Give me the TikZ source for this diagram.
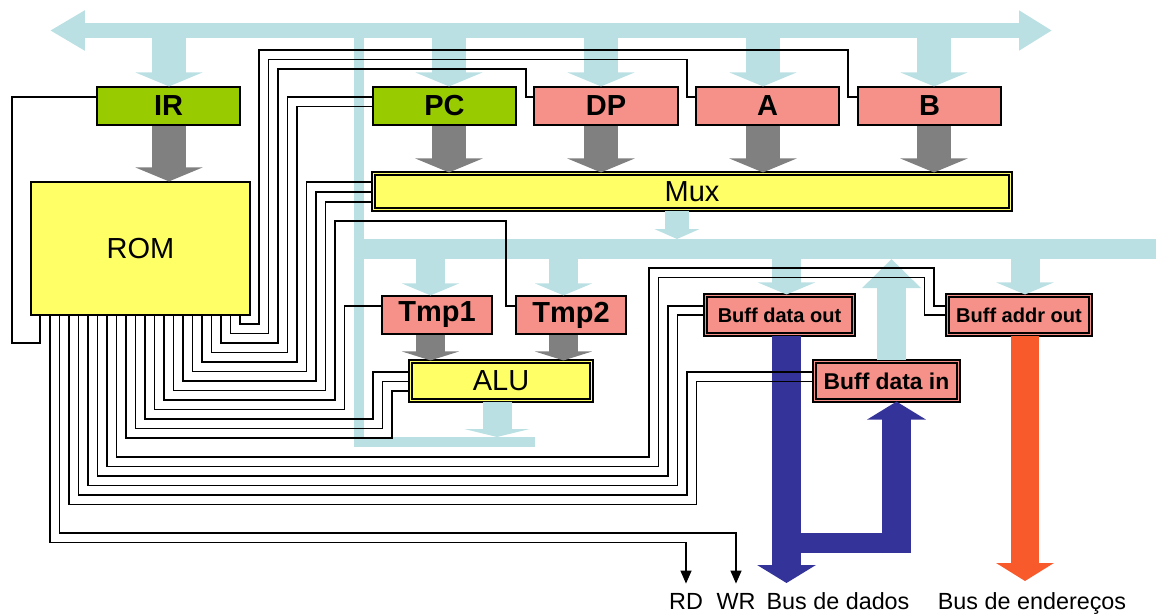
\documentclass[tikz,border=0pt]{standalone}
\usepackage{fontspec}
\setmainfont{Liberation Sans}
\usetikzlibrary{arrows.meta}

\definecolor{busblue}{HTML}{BBE0E3}
\definecolor{regred}{HTML}{F59189}
\definecolor{reggreen}{HTML}{99CC00}
\definecolor{romyellow}{HTML}{FFFF66}
\definecolor{dropgray}{HTML}{808080}
\definecolor{databus}{HTML}{333399}
\definecolor{addrbus}{HTML}{F95A2C}

\tikzset{
  reg/.style={draw, line width=0.7pt, inner sep=0pt, minimum height=0.76cm,
    font=\bfseries\fontsize{16.5}{18}\selectfont},
  dreg/.style={draw, line width=1.2pt, double distance=0.5pt, inner sep=0pt,
    minimum height=0.78cm},
  wire/.style={line width=0.75pt},
  sig/.style={line width=0.75pt, -{Triangle[width=0.22cm,length=0.26cm]}},
  topdrop/.style={busblue, line width=0.68cm, -{Triangle[width=1.34cm,length=0.28cm]}},
  middrop/.style={busblue, line width=0.58cm, -{Triangle[width=1.14cm,length=0.24cm]}},
  graydrop/.style={dropgray, line width=0.68cm, -{Triangle[width=1.34cm,length=0.28cm]}},
  tmpdrop/.style={dropgray, line width=0.58cm, -{Triangle[width=1.14cm,length=0.18cm]}},
  dbus/.style={databus, line width=0.58cm, -{Triangle[width=1.16cm,length=0.36cm]}},
  abus/.style={addrbus, line width=0.56cm, -{Triangle[width=1.14cm,length=0.36cm]}}
}

\begin{document}
\begin{tikzpicture}[x=0.02cm,y=-0.02cm]
  \useasboundingbox (0,0) rectangle (1156,613);

  % registers and blocks
  \node[reg, fill=reggreen, minimum width=2.86cm] (ir) at (168.5,106) {IR};
  \node[reg, fill=reggreen, minimum width=2.86cm] (pc) at (444.5,106) {PC};
  \node[reg, fill=regred, minimum width=2.88cm] (dp) at (606,106) {DP};
  \node[reg, fill=regred, minimum width=2.86cm] (a) at (767.5,106) {A};
  \node[reg, fill=regred, minimum width=2.86cm] (b) at (929.5,106) {B};
  \node[draw, line width=0.7pt, fill=romyellow, minimum width=4.38cm, minimum height=2.66cm,
    font=\fontsize{16.5}{18}\selectfont] (rom) at (140.5,248.5) {ROM};
  \node[dreg, fill=romyellow, double=romyellow, minimum width=12.74cm, minimum height=0.72cm,
    font=\fontsize{16.5}{18}\selectfont] (mux) at (692,191.5) {Mux};
  \node[reg, fill=regred, minimum width=2.2cm] (tmp1) at (437,315) {Tmp1};
  \node[reg, fill=regred, minimum width=2.2cm] (tmp2) at (571,315) {Tmp2};
  \node[dreg, fill=romyellow, double=romyellow, minimum width=3.62cm,
    font=\fontsize{16.5}{18}\selectfont] (alu) at (501,381) {ALU};
  \node[dreg, fill=regred, double=regred, minimum width=2.96cm,
    font=\bfseries\fontsize{11.4}{13}\selectfont] (bdo) at (779.5,315) {Buff data out};
  \node[dreg, fill=regred, double=regred, minimum width=2.88cm,
    font=\bfseries\fontsize{13}{15}\selectfont] (bdi) at (886.5,381) {Buff data in};
  \node[dreg, fill=regred, double=regred, minimum width=2.86cm,
    font=\bfseries\fontsize{11.4}{13}\selectfont] (bao) at (1019,315) {Buff addr out};

  % bottom labels
  \node[anchor=base, inner sep=0pt, font=\fontsize{13.3}{15}\selectfont] (rd) at (686,609) {RD};
  \node[anchor=base, inner sep=0pt, font=\fontsize{13.3}{15}\selectfont] (wr) at (736,609) {WR};
  \node[anchor=base, inner sep=0pt, font=\fontsize{13.3}{15}\selectfont] (dados) at (838,609) {Bus de dados};
  \node[anchor=base, inner sep=0pt, font=\fontsize{13.3}{15}\selectfont] (ender) at (1032,609) {Bus de endereços};

  % internal buses
  \draw[busblue, line width=0.3cm, {Triangle[width=0.76cm,length=0.7cm]}-{Triangle[width=0.76cm,length=0.66cm]}]
    (50,30.5) -- (1052,30.5);
  \draw[busblue, line width=0.2cm] (359,30) -- (359,442) -- (535,442);
  \draw[busblue, line width=0.4cm] (359,249) -- (1156,249);

  \draw[topdrop] (169,30) -- (169,0 |- ir.north);
  \draw[topdrop] (449,30) -- (449,0 |- pc.north);
  \draw[topdrop] (601,30) -- (601,0 |- dp.north);
  \draw[topdrop] (763,30) -- (763,0 |- a.north);
  \draw[topdrop] (934,30) -- (934,0 |- b.north);

  \draw[graydrop] (169,0 |- ir.south) -- (169,0 |- rom.north);
  \draw[graydrop] (449,0 |- pc.south) -- (449,0 |- mux.north);
  \draw[graydrop] (601,0 |- dp.south) -- (601,0 |- mux.north);
  \draw[graydrop] (763,0 |- a.south) -- (763,0 |- mux.north);
  \draw[graydrop] (934,0 |- b.south) -- (934,0 |- mux.north);

  \draw[busblue, line width=0.48cm, -{Triangle[width=0.9cm,length=0.2cm]}] (677,0 |- mux.south) -- (677,239);
  \draw[middrop] (430.5,249) -- (430.5,0 |- tmp1.north);
  \draw[middrop] (563.5,249) -- (563.5,0 |- tmp2.north);
  \draw[middrop] (786.5,249) -- (786.5,0 |- bdo.north);
  \draw[middrop] (1025,249) -- (1025,0 |- bao.north);
  \draw[busblue, line width=0.58cm, -{Triangle[width=1.14cm,length=0.58cm]}] (891.5,0 |- bdi.north) -- (891.5,259);
  \draw[tmpdrop] (430.5,0 |- tmp1.south) -- (430.5,0 |- alu.north);
  \draw[tmpdrop] (563.5,0 |- tmp2.south) -- (563.5,0 |- alu.north);
  \draw[busblue, line width=0.58cm, -{Triangle[width=1.3cm,length=0.16cm]}] (497,0 |- alu.south) -- (497,437);

  % external buses
  \coordinate (dtip) at (786.5,583);
  \coordinate (atip) at (1025,581);
  \draw[dbus] (786.5,0 |- bdo.south) -- (dtip);
  \fill[databus] (772,533) rectangle (911,553);
  \draw[dbus] (896.5,553) -- (896.5,0 |- bdi.south);
  \draw[abus] (1025,0 |- bao.south) -- (atip);

  % control lines from the ROM
  \draw[wire] (40,0 |- rom.south) -- (40,343) -| (12,97) -- (ir.west |- 0,97);
  \draw[wire] (240,0 |- rom.south) |- (259,324) |- (848,50) |- (b.west |- 0,97);
  \draw[wire] (230.5,0 |- rom.south) |- (268.5,333.5) |- (687,59.5) |- (a.west |- 0,97);
  \draw[wire] (221,0 |- rom.south) |- (278,343) |- (526,69) |- (dp.west |- 0,97);
  \draw[wire] (211.5,0 |- rom.south) |- (287.5,352.5) |- (pc.west |- 0,97);
  \draw[wire] (202,0 |- rom.south) |- (297,362) |- (pc.west |- 0,106.5);
  \draw[wire] (192.5,0 |- rom.south) |- (306.5,371.5) |- (mux.west |- 0,182);
  \draw[wire] (183,0 |- rom.south) |- (316,381) |- (mux.west |- 0,192);
  \draw[wire] (173.5,0 |- rom.south) |- (325.5,390.5) |- (mux.west |- 0,202);
  \draw[wire] (164,0 |- rom.south) |- (335,400) |- (506,221) |- (tmp2.west |- 0,306);
  \draw[wire] (154.5,0 |- rom.south) |- (344.5,409.5) |- (tmp1.west |- 0,306);
  \draw[wire] (145,0 |- rom.south) |- (373,419) |- (alu.west |- 0,372);
  \draw[wire] (135.5,0 |- rom.south) |- (382.5,428.5) |- (alu.west |- 0,381.5);
  \draw[wire] (126,0 |- rom.south) |- (392,438) |- (alu.west |- 0,391);
  \draw[wire] (116.5,0 |- rom.south) |- (649,457) |- (934,268) |- (bao.west |- 0,306);
  \draw[wire] (107,0 |- rom.south) |- (658.5,466.5) |- (924.5,277.5) |- (bao.west |- 0,315);
  \draw[wire] (97.5,0 |- rom.south) |- (668,476) |- (bdo.west |- 0,306);
  \draw[wire] (88,0 |- rom.south) |- (677.5,485.5) |- (bdo.west |- 0,315);
  \draw[wire] (78.5,0 |- rom.south) |- (687,495) |- (bdi.west |- 0,372);
  \draw[wire] (69,0 |- rom.south) |- (696.5,504.5) |- (bdi.west |- 0,381.5);
  \draw[sig] (59.5,0 |- rom.south) |- (736,533) -- ([yshift=0.18cm]wr.north);
  \draw[sig] (50,0 |- rom.south) |- (686,542.5) -- ([yshift=0.18cm]rd.north);
\end{tikzpicture}
\end{document}
